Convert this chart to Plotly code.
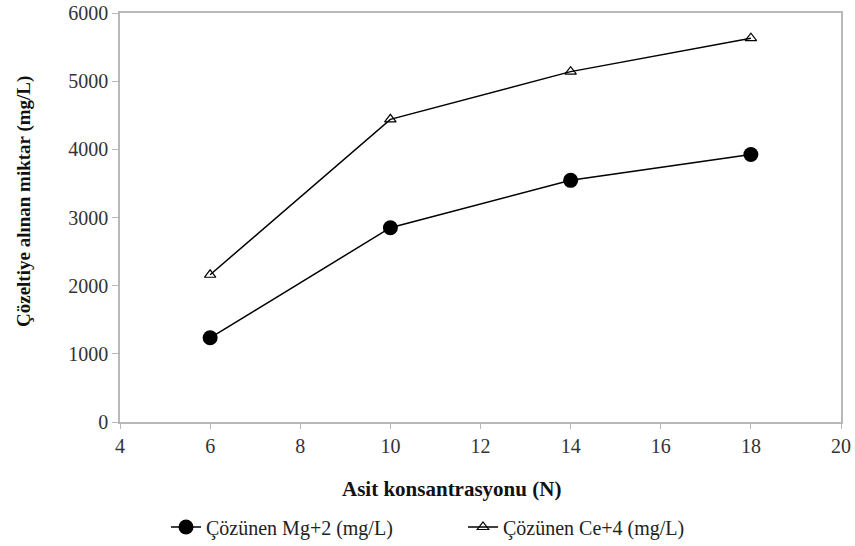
import plotly.graph_objects as go

x_vals = [6, 10, 14, 18]
mg_vals = [1235, 2850, 3545, 3925]
ce_vals = [2160, 4440, 5140, 5630]
mg_name = "Çözünen Mg+2 (mg/L)"
ce_name = "Çözünen Ce+4 (mg/L)"
x_title = "Asit konsantrasyonu (N)"
y_title = "Çözeltiye alınan miktar (mg/L)"

font = "Liberation Serif, Times New Roman, serif"
W, H = 855, 546
L, R, T, B = 120, 14, 13, 124

fig = go.Figure()
fig.add_trace(go.Scatter(x=x_vals, y=mg_vals, mode="lines+markers", name=mg_name,
                         line=dict(color="black", width=1.5),
                         marker=dict(symbol="circle", size=15, color="black")))
fig.add_trace(go.Scatter(x=x_vals, y=ce_vals, mode="lines+markers", name=ce_name,
                         line=dict(color="black", width=1.5),
                         marker=dict(symbol="triangle-up-open", size=10, color="black",
                                     line=dict(width=1.2))))

pw = W - L - R
ph = H - T - B
def px_x(p):
    return (p - L) / pw
def px_y(p):
    return (H - B - p) / ph

fig.update_layout(
    width=W, height=H,
    margin=dict(l=L, r=R, t=T, b=B, autoexpand=False),
    paper_bgcolor="white", plot_bgcolor="white",
    font=dict(family=font, size=20, color="#333"),
    showlegend=True,
    legend=dict(orientation="h", x=px_x(166), xanchor="left", y=px_y(527), yanchor="middle",
                entrywidth=252, entrywidthmode="pixels", bgcolor="rgba(0,0,0,0)",
                font=dict(family=font, size=20, color="#222")),
    xaxis=dict(range=[4, 20], dtick=2, showgrid=False, zeroline=False, automargin=False,
               showline=True, linecolor="#b8b8b8", linewidth=1.5, mirror=True,
               ticks="outside", tickcolor="#b8b8b8", ticklen=5, ticklabeloverflow="allow",
               tickfont=dict(family=font, size=20, color="#333")),
    yaxis=dict(range=[0, 6000], dtick=1000, showgrid=False, zeroline=False, automargin=False,
               showline=True, linecolor="#b8b8b8", linewidth=1.5, mirror=True,
               ticks="outside", tickcolor="#b8b8b8", ticklen=6, ticklabeloverflow="allow",
               tickfont=dict(family=font, size=20, color="#333")),
    annotations=[
        dict(text="<b>" + x_title + "</b>", xref="paper", yref="paper",
             x=px_x(451), y=px_y(489), xanchor="center", yanchor="middle",
             showarrow=False, font=dict(family=font, size=21, color="#111")),
        dict(text="<b>" + y_title + "</b>", xref="paper", yref="paper",
             x=px_x(24), y=px_y(202), xanchor="center", yanchor="middle", textangle=-90,
             showarrow=False, font=dict(family=font, size=19, color="#111")),
    ],
)
fig.write_html("out.html", config={"displayModeBar": False},
               post_script="document.body.style.margin='0';")
